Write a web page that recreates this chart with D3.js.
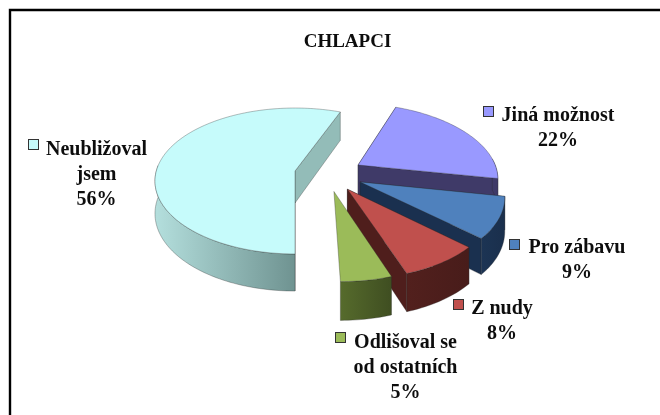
<!DOCTYPE html>
<html>
<head>
<meta charset="utf-8">
<script src="https://cdnjs.cloudflare.com/ajax/libs/d3/7.8.5/d3.min.js"></script>
<style>
html, body { margin: 0; padding: 0; background: #fff; }
svg { display: block; }
text { font-family: "Liberation Serif", serif; font-weight: bold; fill: #111; }
</style>
</head>
<body>
<div id="chart"></div>
<script>
var title = "CHLAPCI"
// clockwise from the bottom of the pie
var categories = ["Neubližoval jsem", "Jiná možnost", "Pro zábavu", "Z nudy", "Odlišoval se od ostatních"]
var values = [56, 22, 9, 8, 5]

var topColors = ["#c6fbfb", "#9999ff", "#4f81bd", "#c0504d", "#9bbb59"]
var cutColors = ["#93bcb8", "#3f3a68", "#1a304f", "#4f1e1c", "#4f6128"]
var wallFrom = ["#b4dfdd", "#3f3a68", "#1c3454", "#52201d", "#566b2c"]
var wallTo = ["#6f9391", "#3f3a68", "#1a2f4c", "#481c1a", "#3f4e21"]

// how far each slice is pulled out, in units of the pie radius
var explodeX = [0, 0.46, 0.46, 0.365, 0.27]
var explodeY = [0, -0.085, 0.15, 0.245, 0.275]

// label block: centre x, first baseline, wrapped lines, key position
var labels = [
    { x: 96.5, y: 155, lines: ["Neubližoval", "jsem", "56%"], keyX: 28.5, keyY: 139.5 },
    { x: 558, y: 121, lines: ["Jiná možnost", "22%"], keyX: 483.5, keyY: 106.5 },
    { x: 577, y: 253, lines: ["Pro zábavu", "9%"], keyX: 509.5, keyY: 239.5 },
    { x: 502, y: 314, lines: ["Z nudy", "8%"], keyX: 453.5, keyY: 299.5 },
    { x: 405.5, y: 348, lines: ["Odlišoval se", "od ostatních", "5%"], keyX: 335.5, keyY: 332.5 }
]

var width = 660, height = 415
var cx = 295, cy = 171        // pie centre on screen
var radiusX = 138.7, radiusY = 71.6, persp = 0.137, depth = 32

var svg = d3.select("#chart").append("svg")
    .attr("width", width)
    .attr("height", height)

// the frame is cut off on the right and at the bottom
svg.append("path")
    .attr("d", "M10," + height + "V10H" + width)
    .attr("fill", "none")
    .attr("stroke", "#000")
    .attr("stroke-width", 2.4)

var defs = svg.append("defs")

defs.append("filter").attr("id", "soft")
    .append("feGaussianBlur").attr("stdDeviation", 0.35)

var slices = d3.pie().sort(null).value(d => d)
    .startAngle(Math.PI).endAngle(3 * Math.PI)(values)

// disk coordinates to screen, with a bit of perspective towards the viewer
function project(X, Y, drop) {
    var w = 1 - persp * Y
    return [cx + radiusX * X / w, cy + radiusY * Y / w + (drop ? depth / w : 0)]
}

var line = d3.line()

function rimPoints(d, i) {
    var n = Math.max(4, Math.round((d.endAngle - d.startAngle) * 40))
    return d3.range(n + 1).map(function(k) {
        var a = d.startAngle + (d.endAngle - d.startAngle) * k / n
        return { a: a, p: [Math.sin(a) + explodeX[i], -Math.cos(a) + explodeY[i]] }
    })
}

function facePath(pts) {
    return line(pts.map(p => project(p[0], p[1], false))) + "Z"
}

function wallPath(pts) {
    var upper = pts.map(p => project(p[0], p[1], false))
    var lower = pts.map(p => project(p[0], p[1], true)).reverse()
    return line(upper.concat(lower)) + "Z"
}

function edge(sel) {
    return sel.attr("stroke", "#2a2a2a").attr("stroke-opacity", 0.45).attr("stroke-width", 0.7)
}

slices.forEach(function(d, i) {
    var rimAll = rimPoints(d, i)
    var rim = rimAll.map(r => r.p)
    // only the part of the rim that faces the viewer gets a wall
    var front = rimAll.filter(r => Math.cos(r.a) < 0.1).map(r => r.p)
    var apex = [explodeX[i], explodeY[i]]
    var g = svg.append("g").attr("class", "slice")

    var xs = front.map(p => project(p[0], p[1], false)[0])
    var grad = defs.append("linearGradient")
        .attr("id", "wall" + i)
        .attr("gradientUnits", "userSpaceOnUse")
        .attr("x1", d3.min(xs)).attr("x2", d3.max(xs))
        .attr("y1", 0).attr("y2", 0)
    grad.append("stop").attr("offset", 0).attr("stop-color", wallFrom[i])
    grad.append("stop").attr("offset", 1).attr("stop-color", wallTo[i])

    // the two cut faces, then the outer wall, the top last
    // last slice: its cut faces point away from the viewer
    if (i < values.length - 1) {
        g.append("path").attr("d", wallPath([apex, rim[0]])).attr("fill", cutColors[i]).call(edge)
        g.append("path").attr("d", wallPath([apex, rim[rim.length - 1]])).attr("fill", cutColors[i]).call(edge)
    }
    g.append("path").attr("d", wallPath(front)).attr("fill", "url(#wall" + i + ")").call(edge)
    g.append("path").attr("d", facePath([apex].concat(rim))).attr("fill", topColors[i]).call(edge)
})

var textLayer = svg.append("g").attr("filter", "url(#soft)")

textLayer.append("text")
    .attr("x", 347.5).attr("y", 47)
    .attr("text-anchor", "middle")
    .attr("font-size", 19)
    .text(title)

labels.forEach(function(l, i) {
    svg.append("rect")
        .attr("x", l.keyX).attr("y", l.keyY)
        .attr("width", 10).attr("height", 10)
        .attr("fill", topColors[i])
        .attr("stroke", "#333")
        .attr("stroke-width", 1)
    var t = textLayer.append("text")
        .attr("text-anchor", "middle")
        .attr("font-size", 20)
    l.lines.forEach(function(s, k) {
        t.append("tspan").attr("x", l.x).attr("y", l.y + k * 25).text(s)
    })
})
</script>
</body>
</html>
